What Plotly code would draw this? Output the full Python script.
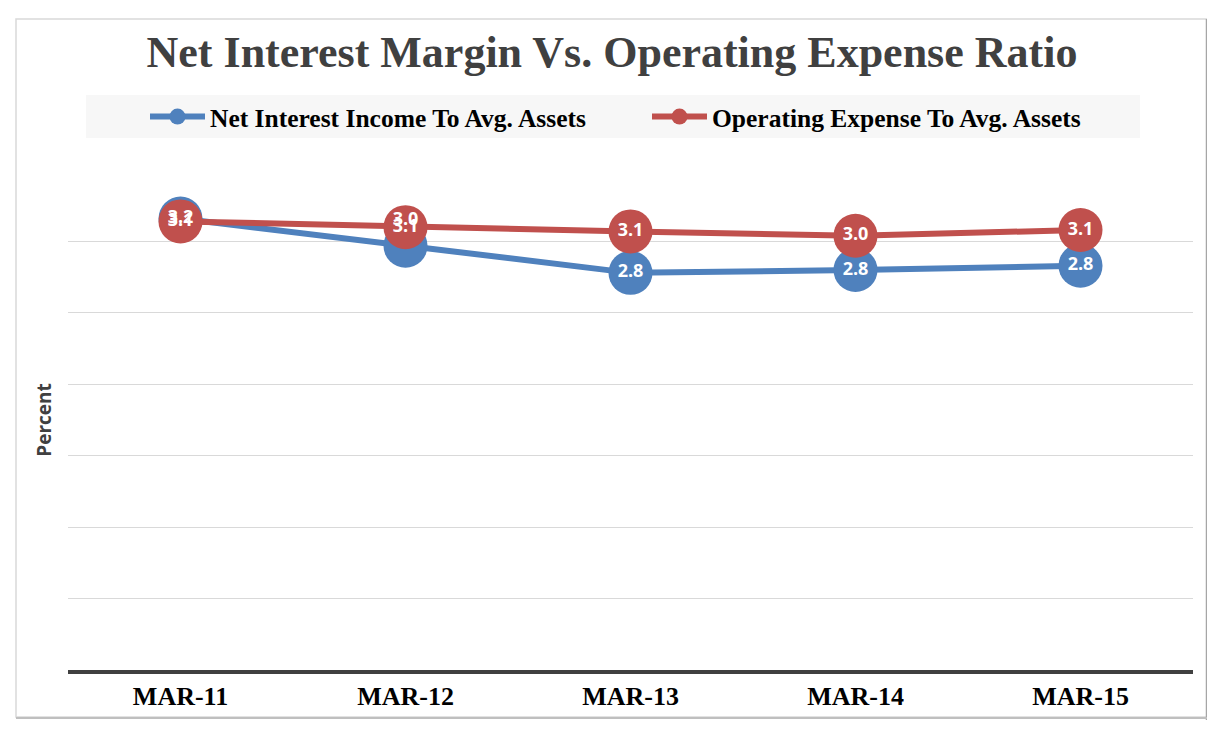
import plotly.graph_objects as go

# chart data
categories = ["MAR-11", "MAR-12", "MAR-13", "MAR-14", "MAR-15"]
nii_values = [3.16, 2.97, 2.78, 2.80, 2.83]
opex_values = [3.14, 3.10, 3.07, 3.04, 3.08]
nii_labels = ["3.2", "3.0", "2.8", "2.8", "2.8"]
opex_labels = ["3.1", "3.1", "3.1", "3.0", "3.1"]

BLUE = "#4f81bd"
RED = "#c0504d"

# the page body adds an 8px margin, so the figure is made 8px smaller
OFF = 8
W, H = 1215 - OFF, 735 - OFF
L, T = 68 - OFF, 170 - OFF
PW, PH = 1125, 500
R, B = W - L - PW, H - T - PH


def px_x(x):
    # page pixel -> paper x
    return (x - OFF - L) / PW


def px_y(y):
    # page pixel -> paper y
    return (T + PH - (y - OFF)) / PH


fig = go.Figure()

fig.add_trace(go.Scatter(
    x=categories, y=nii_values, name="Net Interest Income To Avg. Assets",
    mode="lines+markers",
    line=dict(color=BLUE, width=6),
    marker=dict(color=BLUE, size=44),
))
fig.add_trace(go.Scatter(
    x=categories, y=opex_values, name="Operating Expense To Avg. Assets",
    mode="lines+markers",
    line=dict(color=RED, width=6),
    marker=dict(color=RED, size=44),
))

# data labels drawn last so they sit on top of all markers
label_font = dict(family="Open Sans", size=18, color="white", weight="bold")
fig.add_trace(go.Scatter(
    x=categories, y=nii_values, mode="markers+text", text=nii_labels,
    marker=dict(size=24, opacity=0),
    textposition=["middle center", "top center", "middle center",
                  "middle center", "middle center"],
    textfont=label_font, showlegend=False, hoverinfo="skip",
))
fig.add_trace(go.Scatter(
    x=categories, y=opex_values, mode="text", text=opex_labels,
    textposition="middle center",
    textfont=label_font, showlegend=False, hoverinfo="skip",
))

shapes = [
    # chart frame
    dict(type="rect", xref="paper", yref="paper",
         x0=px_x(16), x1=px_x(1207), y0=px_y(19), y1=px_y(717),
         line=dict(color="#d9d9d9", width=1.5), layer="below"),
    dict(type="line", xref="paper", yref="paper",
         x0=px_x(1207), x1=px_x(1207), y0=px_y(19), y1=px_y(720),
         line=dict(color="#a6a6a6", width=2.5)),
    dict(type="line", xref="paper", yref="paper",
         x0=px_x(16), x1=px_x(1208), y0=px_y(718), y1=px_y(718),
         line=dict(color="#bfbfbf", width=2)),
    # legend background
    dict(type="rect", xref="paper", yref="paper",
         x0=px_x(86), x1=px_x(1140), y0=px_y(95), y1=px_y(138),
         fillcolor="#f7f7f7", line=dict(width=0), layer="below"),
]

fig.update_layout(
    width=W, height=H,
    margin=dict(l=L, r=R, t=T, b=B),
    paper_bgcolor="white",
    plot_bgcolor="white",
    title=dict(
        text="<b>Net Interest Margin Vs. Operating Expense Ratio</b>",
        x=px_x(612), xref="paper", xanchor="center",
        y=1 - (52 - OFF) / H, yanchor="middle",
        font=dict(family="Liberation Serif", size=44, color="#404040"),
    ),
    legend=dict(
        orientation="h", x=px_x(145), xanchor="left",
        y=px_y(117), yanchor="middle",
        bgcolor="rgba(0,0,0,0)",
        font=dict(family="Liberation Serif", size=25.5, color="#000000",
                  weight="bold"),
        itemwidth=55, entrywidth=432, entrywidthmode="pixels",
    ),
    xaxis=dict(
        type="category", range=[-0.5, 4.5],
        showline=True, linecolor="#404040", linewidth=4,
        showgrid=False, ticks="",
        tickfont=dict(family="Liberation Serif", size=26, color="#000000",
                      weight="bold"),
    ),
    yaxis=dict(
        range=[0, 3.5], dtick=0.5, showticklabels=False,
        showgrid=True, gridcolor="#d9d9d9", gridwidth=1,
        zeroline=False, showline=False,
        title=dict(text="<b>Percent</b>", standoff=10,
                   font=dict(family="Open Sans", size=19, color="#404040")),
    ),
    shapes=shapes,
    showlegend=True,
)

fig.write_html("out.html")
